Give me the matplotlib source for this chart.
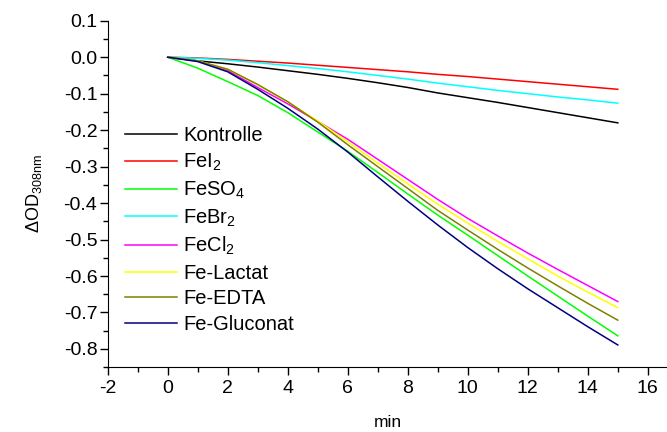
import numpy as np
import matplotlib
matplotlib.use('Agg')
import matplotlib.pyplot as plt
from matplotlib.ticker import MultipleLocator, FormatStrFormatter

plt.rcParams['font.family'] = ['Liberation Sans', 'DejaVu Sans']
plt.rcParams['mathtext.fontset'] = 'custom'
plt.rcParams['mathtext.rm'] = 'Liberation Sans'
plt.rcParams['mathtext.it'] = 'Liberation Sans'
plt.rcParams['axes.unicode_minus'] = False

t = [0, 1, 2, 3, 4, 5, 6, 7, 8, 9, 10, 11, 12, 13, 14, 15]

kontrolle = [0, -0.010, -0.018, -0.027, -0.037, -0.047, -0.058, -0.070, -0.083, -0.098, -0.111, -0.124, -0.138, -0.152, -0.166, -0.180]
fei2 = [0, -0.002, -0.006, -0.011, -0.016, -0.022, -0.028, -0.034, -0.040, -0.047, -0.053, -0.060, -0.067, -0.074, -0.081, -0.088]
feso4 = [0, -0.030, -0.067, -0.105, -0.152, -0.205, -0.258, -0.316, -0.375, -0.433, -0.488, -0.544, -0.600, -0.655, -0.710, -0.764]
febr2 = [0, -0.003, -0.008, -0.015, -0.023, -0.031, -0.040, -0.050, -0.060, -0.071, -0.081, -0.091, -0.100, -0.109, -0.117, -0.126]
fecl2 = [0, -0.010, -0.037, -0.083, -0.128, -0.176, -0.225, -0.280, -0.335, -0.390, -0.442, -0.490, -0.537, -0.582, -0.626, -0.670]
lactat = [0, -0.010, -0.033, -0.075, -0.122, -0.175, -0.232, -0.290, -0.347, -0.403, -0.455, -0.505, -0.553, -0.600, -0.644, -0.687]
edta = [0, -0.010, -0.033, -0.075, -0.122, -0.178, -0.240, -0.300, -0.360, -0.420, -0.474, -0.527, -0.578, -0.627, -0.675, -0.721]
gluconat = [0, -0.012, -0.040, -0.088, -0.140, -0.197, -0.260, -0.328, -0.395, -0.460, -0.522, -0.580, -0.635, -0.687, -0.739, -0.789]

labels = ['Kontrolle', 'FeI$_2$', 'FeSO$_4$', 'FeBr$_2$', 'FeCl$_2$', 'Fe-Lactat', 'Fe-EDTA', 'Fe-Gluconat']
series = [kontrolle, fei2, feso4, febr2, fecl2, lactat, edta, gluconat]
colors = ['#000000', '#FF0000', '#00FF00', '#00FFFF', '#FF00FF', '#FFFF00', '#808000', '#000080']

fig = plt.figure(figsize=(6.67, 4.32), dpi=100)
ax = fig.add_axes([0.1615, 0.150, 0.8385, 0.802])

for y, c, lab in zip(series, colors, labels):
    ax.plot(t, y, color=c, lw=1.1, label=lab)

ax.set_xlim(-2, 16.64)
ax.set_ylim(-0.85, 0.1)
ax.xaxis.set_major_locator(MultipleLocator(2))
ax.xaxis.set_minor_locator(MultipleLocator(1))
ax.yaxis.set_major_locator(MultipleLocator(0.1))
ax.yaxis.set_minor_locator(MultipleLocator(0.05))
ax.yaxis.set_major_formatter(FormatStrFormatter('%.1f'))
ax.xaxis.set_major_formatter(FormatStrFormatter('%d'))

for s in ['top', 'right']:
    ax.spines[s].set_visible(False)
ax.tick_params(which='major', direction='out', length=6, width=1, labelsize=14)
ax.tick_params(which='minor', direction='out', length=3.5, width=1)
ax.tick_params(axis='y', which='major', pad=1.5)
ax.tick_params(axis='x', which='major', pad=3)

ax.set_xlabel('min', fontsize=12.5, labelpad=13)
ax.set_ylabel('$\\Delta$OD$_{308nm}$', fontsize=13, labelpad=14)

ax.legend(loc='upper left', bbox_to_anchor=(0.031, 0.695), frameon=False,
          fontsize=14.5, handlelength=2.6, handletextpad=0.3, labelspacing=0.32,
          borderpad=0, borderaxespad=0)

fig.savefig('out.png', dpi=100)
